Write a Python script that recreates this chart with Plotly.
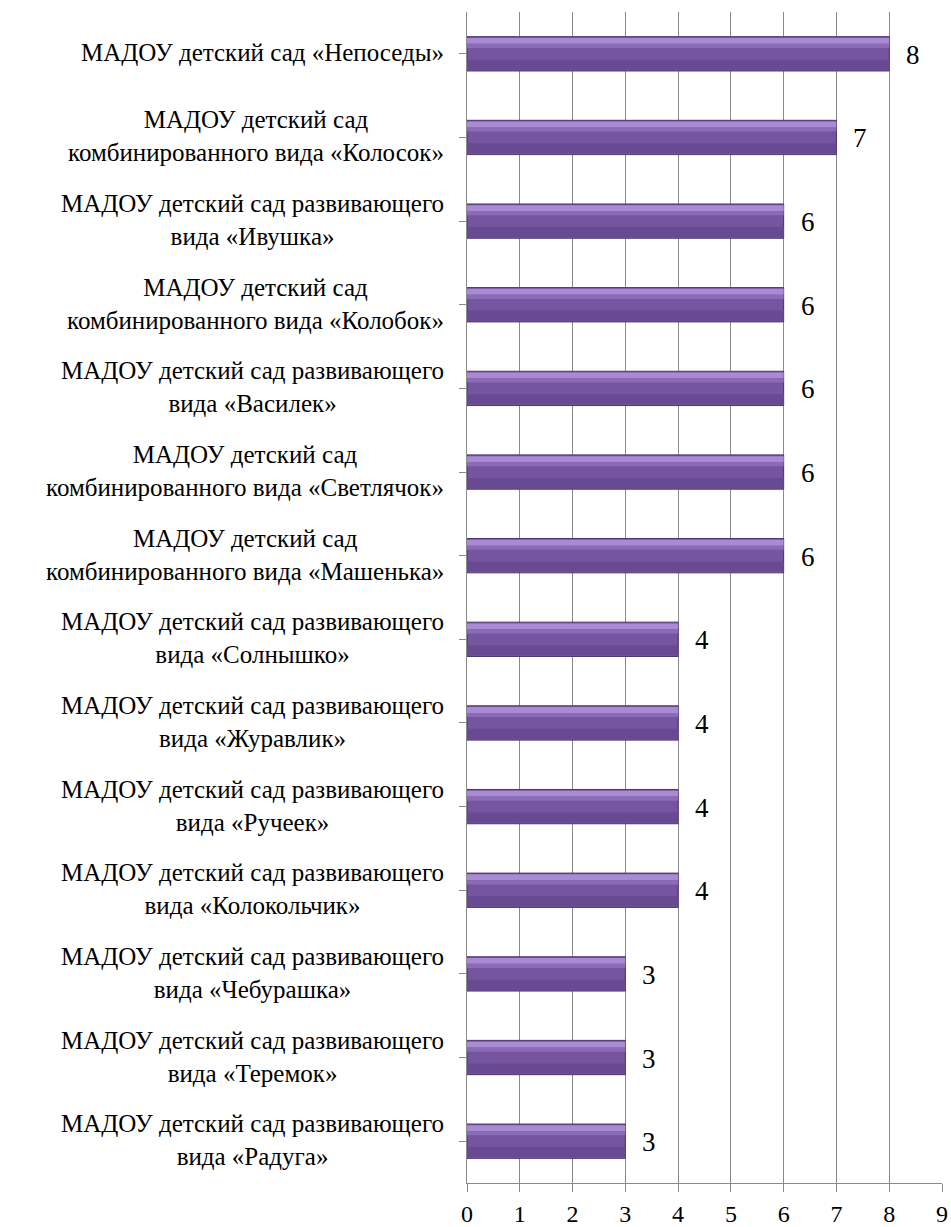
import plotly.graph_objects as go

categories = [
    "МАДОУ детский сад «Непоседы»",
    "МАДОУ детский сад\nкомбинированного вида «Колосок»",
    "МАДОУ детский сад развивающего\nвида «Ивушка»",
    "МАДОУ детский сад\nкомбинированного вида «Колобок»",
    "МАДОУ детский сад развивающего\nвида «Василек»",
    "МАДОУ детский сад\nкомбинированного вида «Светлячок»",
    "МАДОУ детский сад\nкомбинированного вида «Машенька»",
    "МАДОУ детский сад развивающего\nвида «Солнышко»",
    "МАДОУ детский сад развивающего\nвида «Журавлик»",
    "МАДОУ детский сад развивающего\nвида «Ручеек»",
    "МАДОУ детский сад развивающего\nвида «Колокольчик»",
    "МАДОУ детский сад развивающего\nвида «Чебурашка»",
    "МАДОУ детский сад развивающего\nвида «Теремок»",
    "МАДОУ детский сад развивающего\nвида «Радуга»",
]
values = [8, 7, 6, 6, 6, 6, 6, 4, 4, 4, 4, 3, 3, 3]
x_ticks = [0, 1, 2, 3, 4, 5, 6, 7, 8, 9]

FONT = "Liberation Serif"
ids = list(range(len(categories)))

fig = go.Figure()
# main body of bar
fig.add_trace(go.Bar(
    x=values, y=ids, orientation="h", width=0.41,
    marker=dict(color="#7655a0", line=dict(color="#4c3570", width=1)),
    hoverinfo="skip", showlegend=False,
))
# lower shade
fig.add_trace(go.Bar(
    x=values, y=ids, orientation="h", width=0.12, offset=0.07,
    marker=dict(color="#684a93", line=dict(width=0)),
    hoverinfo="skip", showlegend=False,
))
# upper highlight
fig.add_trace(go.Bar(
    x=values, y=ids, orientation="h", width=0.07, offset=-0.19,
    marker=dict(color="#a98bd3", line=dict(width=0)),
    hoverinfo="skip", showlegend=False,
))
fig.add_trace(go.Bar(
    x=values, y=ids, orientation="h", width=0.05, offset=-0.12,
    marker=dict(color="#8b6ab8", line=dict(width=0)),
    hoverinfo="skip", showlegend=False,
))

annotations = []
for i, (cat, v) in enumerate(zip(categories, values)):
    annotations.append(dict(
        x=0, xref="paper", y=i, yref="y", text=cat.replace("\n", "<br>"),
        showarrow=False, align="center",
        xanchor="right", yanchor="middle", xshift=-21, yshift=1,
        font=dict(family=FONT, size=25, color="black"),
    ))
    annotations.append(dict(
        x=v, xref="x", y=i, yref="y", text=str(v), showarrow=False,
        xanchor="left", yanchor="middle", xshift=15, yshift=-1,
        font=dict(family=FONT, size=27, color="black"),
    ))

fig.update_layout(
    width=951, height=1227,
    margin=dict(l=467, r=9, t=12, b=44, autoexpand=False),
    paper_bgcolor="white", plot_bgcolor="white",
    barmode="overlay",
    annotations=annotations,
    font=dict(family=FONT, color="black"),
    xaxis=dict(
        range=[0, 9], tickvals=x_ticks, ticktext=[str(t) for t in x_ticks],
        showgrid=True, gridcolor="#8a8a8a", gridwidth=1,
        showline=True, linecolor="#8a8a8a", linewidth=1,
        ticks="outside", ticklen=8, tickcolor="#8a8a8a",
        tickfont=dict(family=FONT, size=24, color="black"),
        ticklabelstandoff=1, automargin=False,
        zeroline=False,
    ),
    yaxis=dict(
        range=[len(categories) - 0.5, -0.5],
        tickvals=ids, showticklabels=False,
        showgrid=False, zeroline=False, automargin=False,
        showline=True, linecolor="#8a8a8a", linewidth=1,
        ticks="outside", ticklen=7, tickcolor="#8a8a8a",
        tickson="boundaries",
    ),
)

fig.write_html(
    "out.html",
    config={"displayModeBar": False},
    post_script="document.body.style.margin='0';document.body.style.overflow='hidden';",
)
